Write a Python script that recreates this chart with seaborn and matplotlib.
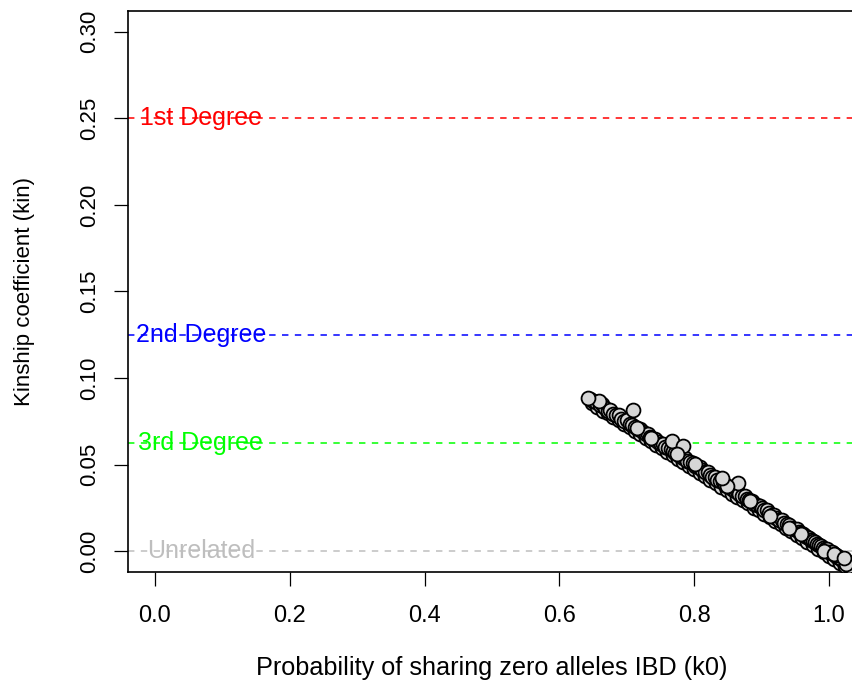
import matplotlib
matplotlib.use("Agg")
import matplotlib.pyplot as plt
import seaborn as sns
import pandas as pd

# ---- data ----
k0 = [
    0.648, 0.656, 0.664, 0.672, 0.680, 0.688, 0.696, 0.704, 0.712, 0.720,
    0.728, 0.736, 0.744, 0.752, 0.760, 0.768, 0.776, 0.784, 0.792, 0.800,
    0.808, 0.816, 0.824, 0.832, 0.840, 0.848, 0.856, 0.864, 0.872, 0.880,
    0.888, 0.896, 0.904, 0.912, 0.920, 0.928, 0.936, 0.944, 0.952, 0.960,
    0.968, 0.976, 0.984, 0.992, 1.000, 1.008, 1.016, 1.024, 1.032,
    0.645, 0.650, 0.654, 0.660, 0.663, 0.667, 0.672, 0.675, 0.680, 0.684,
    0.688, 0.692, 0.696, 0.700, 0.704, 0.708, 0.712, 0.716, 0.720, 0.724,
    0.728, 0.731, 0.735, 0.739, 0.742, 0.746, 0.750, 0.754, 0.757, 0.761,
    0.765, 0.768, 0.772, 0.776, 0.779, 0.783, 0.787, 0.790, 0.794, 0.798,
    0.801, 0.805, 0.809, 0.812, 0.816, 0.820, 0.823, 0.827, 0.831, 0.834,
    0.838, 0.842, 0.845, 0.849, 0.853, 0.856, 0.860, 0.864, 0.867, 0.871,
    0.875, 0.878, 0.882, 0.886, 0.889, 0.893, 0.897, 0.900, 0.904, 0.908,
    0.911, 0.915, 0.919, 0.922, 0.926, 0.930, 0.933, 0.937, 0.941, 0.944,
    0.948, 0.952, 0.955, 0.958, 0.961, 0.964, 0.967, 0.970, 0.973, 0.976,
    0.979, 0.982, 0.985, 0.988, 0.991, 0.994, 0.997, 1.000, 1.003, 1.006,
    1.009, 1.012, 1.015, 1.018, 1.021, 1.024, 1.027, 1.030, 1.031, 1.028,
    1.022, 1.016, 1.010, 1.004, 1.033, 1.035, 1.029, 1.025,
    0.709, 0.767, 0.783, 0.865, 0.658, 0.642, 0.801, 0.849, 0.913, 0.958,
    0.992, 1.007, 0.715, 0.736, 0.774, 0.841, 0.883, 0.940, 1.022,
]
kin = [
    0.0855, 0.0835, 0.0812, 0.0797, 0.0773, 0.0757, 0.0732, 0.0716, 0.0693, 0.0676,
    0.0652, 0.0637, 0.0613, 0.0596, 0.0572, 0.0556, 0.0533, 0.0516, 0.0492, 0.0476,
    0.0453, 0.0436, 0.0412, 0.0396, 0.0373, 0.0356, 0.0332, 0.0316, 0.0293, 0.0276,
    0.0252, 0.0236, 0.0213, 0.0196, 0.0172, 0.0156, 0.0133, 0.0116, 0.0092, 0.0076,
    0.0053, 0.0036, 0.0012, -0.0004, -0.0027, -0.0044, -0.0067, -0.0084, -0.0107,
    0.0880, 0.0868, 0.0862, 0.0845, 0.0848, 0.0826, 0.0812, 0.0818, 0.0795, 0.0784,
    0.0786, 0.0764, 0.0752, 0.0755, 0.0735, 0.0728, 0.0716, 0.0705, 0.0703, 0.0686,
    0.0675, 0.0677, 0.0658, 0.0649, 0.0650, 0.0630, 0.0622, 0.0620, 0.0603, 0.0595,
    0.0592, 0.0576, 0.0568, 0.0566, 0.0549, 0.0540, 0.0538, 0.0522, 0.0513, 0.0510,
    0.0495, 0.0486, 0.0484, 0.0468, 0.0458, 0.0456, 0.0440, 0.0431, 0.0429, 0.0412,
    0.0403, 0.0401, 0.0385, 0.0376, 0.0373, 0.0357, 0.0348, 0.0346, 0.0330, 0.0320,
    0.0318, 0.0302, 0.0293, 0.0290, 0.0275, 0.0265, 0.0263, 0.0247, 0.0238, 0.0236,
    0.0220, 0.0210, 0.0208, 0.0192, 0.0183, 0.0181, 0.0165, 0.0155, 0.0153, 0.0137,
    0.0128, 0.0126, 0.0110, 0.0103, 0.0100, 0.0088, 0.0080, 0.0078, 0.0065, 0.0058,
    0.0055, 0.0043, 0.0035, 0.0033, 0.0020, 0.0013, 0.0010, -0.0002, -0.0009, -0.0012,
    -0.0024, -0.0032, -0.0034, -0.0047, -0.0054, -0.0056, -0.0069, -0.0076, -0.0070, -0.0062,
    -0.0045, -0.0038, -0.0020, -0.0005, -0.0095, -0.0085, -0.0088, -0.0072,
    0.0815, 0.0636, 0.0607, 0.0393, 0.0870, 0.0884, 0.0503, 0.0376, 0.0202, 0.0098,
    0.0000, -0.0017, 0.0711, 0.0653, 0.0561, 0.0422, 0.0289, 0.0133, -0.0040,
]

degree_labels = ["1st Degree", "2nd Degree", "3rd Degree", "Unrelated"]
degree_values = [0.25, 0.125, 0.0625, 0.0]
degree_colors = ["#FF0000", "#0000FF", "#00FF00", "#BEBEBE"]

x_ticks = [0.0, 0.2, 0.4, 0.6, 0.8, 1.0]
y_ticks = [0.00, 0.05, 0.10, 0.15, 0.20, 0.25, 0.30]

df = pd.DataFrame({"k0": k0, "kin": kin})

sns.set_style("ticks")
plt.rcParams["font.family"] = ["Liberation Sans", "DejaVu Sans"]
plt.rcParams["text.color"] = "black"
plt.rcParams["axes.labelcolor"] = "black"
plt.rcParams["xtick.color"] = "black"
plt.rcParams["ytick.color"] = "black"

fig = plt.figure(figsize=(8.52, 6.84), dpi=100)
ax = fig.add_axes([128 / 852, 112 / 684, (856 - 128) / 852, 561 / 684])

for lab, val, col in zip(degree_labels, degree_values, degree_colors):
    ax.axhline(val, color=col, lw=1.1, ls=(0, (4.2, 4.2)), zorder=1)
    ax.text(0.068, val, lab, color=col, ha="center", va="center",
            fontsize=18, zorder=2)

sns.scatterplot(data=df, x="k0", y="kin", ax=ax, s=100, color="#D6D6D6",
                edgecolor="black", linewidth=1.3, zorder=3, legend=False)

ax.set_xlim(-0.04, 1.04)
ax.set_ylim(-0.012, 0.312)
ax.set_xticks(x_ticks)
ax.set_xticklabels([f"{v:.1f}" for v in x_ticks])
ax.set_yticks(y_ticks)
ax.set_yticklabels([f"{v:.2f}" for v in y_ticks])

for side in ["left", "right", "top", "bottom"]:
    ax.spines[side].set_visible(True)
    ax.spines[side].set_linewidth(1.2)
    ax.spines[side].set_color("black")

ax.tick_params(axis="both", direction="out", length=10, width=0.9, color="black")
ax.tick_params(axis="x", labelsize=17, pad=14)
ax.tick_params(axis="y", labelsize=16, pad=10, labelrotation=90)
for t in ax.get_yticklabels():
    t.set_va("center")

ax.set_xlabel("Probability of sharing zero alleles IBD (k0)", fontsize=18.2, labelpad=21)
ax.set_ylabel("Kinship coefficient (kin)", fontsize=16, labelpad=32)

fig.savefig("out.png", dpi=100)
